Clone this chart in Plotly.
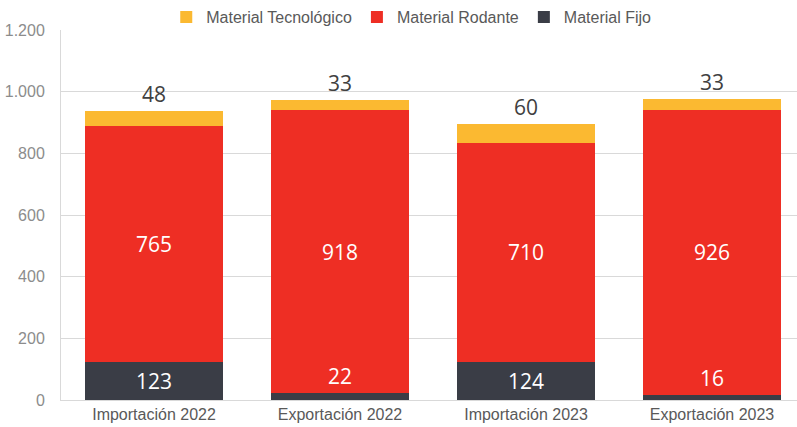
import plotly.graph_objects as go

categories = ["Importación 2022", "Exportación 2022", "Importación 2023", "Exportación 2023"]
fijo = [123, 22, 124, 16]
rodante = [765, 918, 710, 926]
tecnologico = [48, 33, 60, 33]
tick_vals = [0, 200, 400, 600, 800, 1000, 1200]

C_TEC = "#FBB931"
C_ROD = "#EE2E24"
C_FIJ = "#3A3D46"

fig = go.Figure()
fig.add_trace(go.Bar(x=categories, y=fijo, name="Material Fijo", marker_color=C_FIJ,
                     marker_line_width=0, width=0.742))
fig.add_trace(go.Bar(x=categories, y=rodante, name="Material Rodante", marker_color=C_ROD,
                     marker_line_width=0, width=0.742))
fig.add_trace(go.Bar(x=categories, y=tecnologico, name="Material Tecnológico", marker_color=C_TEC,
                     marker_line_width=0, width=0.742))

lab_font = "Open Sans"
annotations = []
for i, cat in enumerate(categories):
    f, r, t = fijo[i], rodante[i], tecnologico[i]
    if f >= 60:
        annotations.append(dict(x=cat, y=f / 2, text=str(f), showarrow=False,
                                font=dict(family=lab_font, size=21, color="white"),
                                yanchor="middle"))
    else:
        annotations.append(dict(x=cat, y=f, text=str(f), showarrow=False,
                                font=dict(family=lab_font, size=21, color="white"),
                                yanchor="bottom", yshift=1))
    annotations.append(dict(x=cat, y=f + r / 2, text=str(r), showarrow=False,
                            font=dict(family=lab_font, size=21, color="white"),
                            yanchor="middle"))
    annotations.append(dict(x=cat, y=f + r + t, text=str(t), showarrow=False,
                            font=dict(family=lab_font, size=21, color="#404040"),
                            yanchor="bottom", yshift=1))

fig.update_layout(
    width=797, height=427,
    margin=dict(l=61, r=0, t=30, b=27, autoexpand=False),
    barmode="stack",
    bargap=0.258,
    paper_bgcolor="white", plot_bgcolor="white",
    separators=",.",
    font=dict(family="Liberation Sans, Arial", size=16, color="#595959"),
    legend=dict(orientation="h", traceorder="reversed", x=0.516, xanchor="center",
                xref="container", y=0.96, yanchor="middle", yref="container",
                font=dict(size=16, color="#595959"), itemwidth=30,
                bgcolor="rgba(0,0,0,0)"),
    annotations=annotations,
    showlegend=True,
)
fig.update_xaxes(range=[-0.5, 3.457], showline=True, linecolor="#D9D9D9", linewidth=1,
                 showgrid=False, ticks="", automargin=False,
                 tickfont=dict(size=16, color="#595959"))
fig.update_yaxes(range=[0, 1200], tickvals=tick_vals, tickformat=",d",
                 showgrid=True, gridcolor="#D9D9D9", gridwidth=1,
                 showline=True, linecolor="#D9D9D9", linewidth=1,
                 zeroline=False, ticks="", ticklabelstandoff=12, automargin=False,
                 tickfont=dict(size=16, color="#8C8C8C"))

fig.write_html("out.html", config={"displayModeBar": False},
               post_script="document.body.style.margin='0px';document.body.style.overflow='hidden';")
